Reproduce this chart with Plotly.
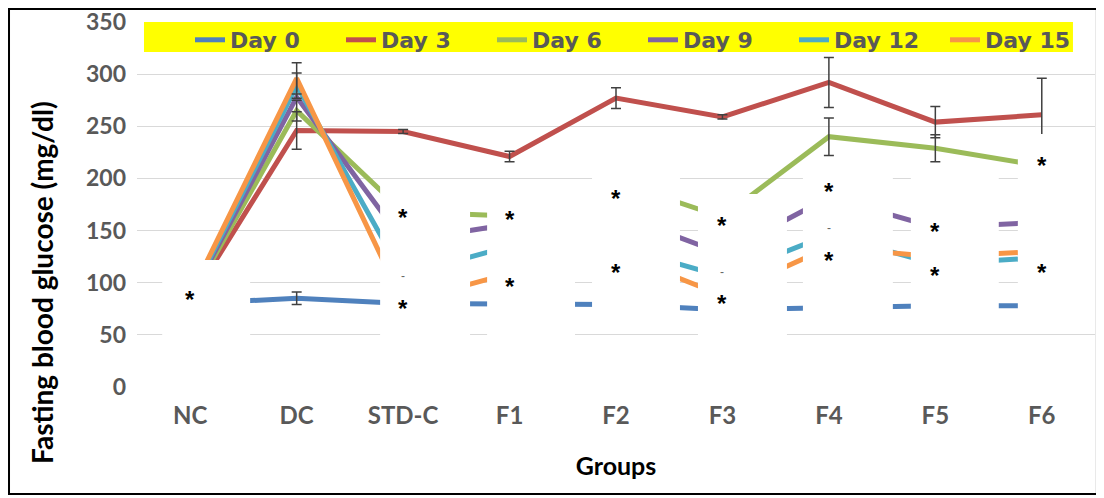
import plotly.graph_objects as go

groups = ["NC", "DC", "STD-C", "F1", "F2", "F3", "F4", "F5", "F6"]
series_names = ["Day 0", "Day 3", "Day 6", "Day 9", "Day 12", "Day 15"]

day0 = [80, 85, 80, 79, 79, 74, 76, 78, 78]
day3 = [82, 246, 245, 221, 277, 259, 292, 254, 261]
day6 = [84, 265, 168, 164, 197, 163, 240, 229, 212]
day9 = [85, 278, 140, 156, 166, 128, 182, 153, 158]
day12 = [86, 289, 107, 135, 135, 106, 146, 118, 124]
day15 = [88, 296, 81, 109, 128, 88, 134, 125, 130]

# error bars (None = not shown)
err0 = [None, 6, None, None, None, None, None, None, None]
err3 = [None, 18, 2, 5, 10, 2, 24, 15, 35]
err6 = [None, 10, None, None, None, None, 18, 13, None]
err9 = [None] * 9
err12 = [None, 12, None, None, None, None, None, None, None]
err15 = [None, 15, None, None, None, None, None, None, None]

y_ticks = [0, 50, 100, 150, 200, 250, 300, 350]
x_title = "Groups"
y_title = "Fasting blood glucose (mg/dl)"

# significance marks: (group, y value, text)
marks = [
    ("NC", 92, "*"),
    ("STD-C", 170.6, "*"), ("STD-C", 106, "-"), ("STD-C", 83.4, "*"),
    ("F1", 168.7, "*"), ("F1", 104.5, "*"),
    ("F2", 188.8, "*"), ("F2", 117, "*"),
    ("F3", 163, "*"), ("F3", 110, "-"), ("F3", 88, "*"),
    ("F4", 195.5, "*"), ("F4", 152.4, "-"), ("F4", 129, "*"),
    ("F5", 157, "*"), ("F5", 115, "*"),
    ("F6", 220.5, "*"), ("F6", 117, "*"),
]

colors = ["#4F81BD", "#C0504D", "#9BBB59", "#8064A2", "#4BACC6", "#F79646"]
values = [day0, day3, day6, day9, day12, day15]
errors = [err0, err3, err6, err9, err12, err15]

fig = go.Figure()
idx = list(range(len(groups)))
for name, vals, col in zip(series_names, values, colors):
    fig.add_trace(go.Scatter(x=idx, y=vals, mode="lines", name=name,
                             line=dict(color=col, width=5)))
for vals, errs in zip(values, errors):
    pts = [i for i, e in enumerate(errs) if e is not None]
    if not pts:
        continue
    fig.add_trace(go.Scatter(
        x=[idx[i] for i in pts], y=[vals[i] for i in pts], mode="markers",
        marker=dict(size=1, color="rgba(0,0,0,0)"), showlegend=False,
        hoverinfo="skip",
        error_y=dict(type="data", array=[errs[i] for i in pts], visible=True,
                     color="#404040", thickness=1.5, width=5)))

# white occluding boxes (category index, mg/dl)
boxes = [
    (-0.263, 0.563, 25.9, 121.7),
    (1.784, 2.629, 25.9, 195.5),
    (2.789, 3.615, 25.9, 195.5),
    (3.606, 3.784, 105.4, 192.7),
    (3.775, 4.601, 62.3, 208),
    (4.770, 5.606, 25.9, 185),
    (5.756, 6.601, 62.3, 208),
    (6.770, 7.596, 62.3, 208),
    (7.775, 8.6, 62.3, 242.5),
]
shapes = []
for x0, x1, y0, y1 in boxes:
    shapes.append(dict(type="rect", xref="x", yref="y", x0=x0, x1=x1, y0=y0, y1=y1,
                       fillcolor="white", line=dict(width=0), layer="above"))
# legend band
shapes.append(dict(type="rect", xref="paper", yref="paper", x0=0.0073, x1=0.977,
                   y0=0.9178, y1=1.0, fillcolor="#FFFF00", line=dict(width=0), layer="above"))
# outer frame
shapes.append(dict(type="rect", xref="paper", yref="paper", x0=-0.1336, x1=1.002,
                   y0=-0.293, y1=1.0356, fillcolor="rgba(0,0,0,0)",
                   line=dict(color="black", width=2), layer="above"))

annotations = []
for g, v, t in marks:
    if t == "*":
        annotations.append(dict(x=groups.index(g), y=v, xref="x", yref="y", text=t,
                                showarrow=False, yshift=-8,
                                font=dict(family="Liberation Sans", size=24, color="black",
                                          weight="bold")))
    else:
        annotations.append(dict(x=groups.index(g), y=v, xref="x", yref="y", text=t,
                                showarrow=False,
                                font=dict(family="Liberation Sans", size=12, color="#666666")))
# y-axis title (placed lower than centre, as in the original)
annotations.append(dict(x=-0.0992, y=0.2877, xref="paper", yref="paper", text=y_title,
                        textangle=-90, showarrow=False, xanchor="center", yanchor="middle",
                        font=dict(family="Lato", size=28, color="black", weight="bold")))

fig.update_layout(
    width=1096, height=490,
    margin=dict(l=129, r=9, t=14, b=111, autoexpand=False),
    paper_bgcolor="white", plot_bgcolor="white",
    shapes=shapes, annotations=annotations,
    showlegend=True,
    legend=dict(orientation="h", x=0.0553, y=0.9507, xanchor="left", yanchor="middle",
                bgcolor="rgba(0,0,0,0)", entrywidth=106, entrywidthmode="pixels",
                font=dict(family="DejaVu Sans", size=22, color="#595959", weight="bold"),
                traceorder="normal"),
    xaxis=dict(range=[-0.5, 8.5], tickmode="array", tickvals=idx, ticktext=groups,
               showgrid=False, zeroline=False, showline=False, ticks="",
               tickfont=dict(family="Lato", size=24, color="#595959", weight="bold"),
               ticklabelstandoff=12,
               title=dict(text=x_title, standoff=29,
                          font=dict(family="Lato", size=25, color="black", weight="bold"))),
    yaxis=dict(range=[0, 350], tickmode="array", tickvals=y_ticks,
               showgrid=True, gridcolor="#D9D9D9", gridwidth=1, zeroline=False,
               showline=False, ticks="", ticklabelstandoff=10, ticklabeloverflow="allow",
               tickfont=dict(family="Lato", size=23, color="#595959", weight="bold")),
)

fig.write_html("out.html")
